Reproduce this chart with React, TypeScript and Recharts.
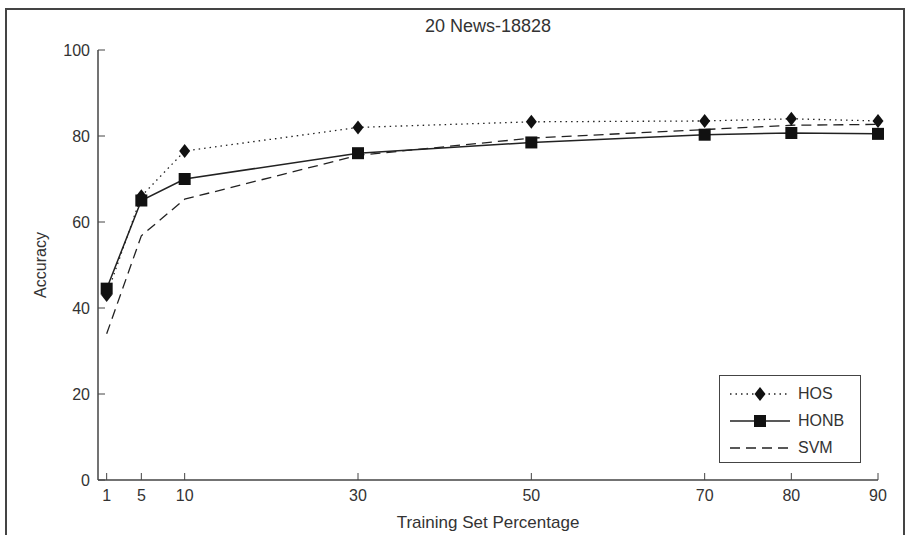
import React from 'react';
import { LineChart, Line, XAxis, YAxis, Legend, Label } from 'recharts';

const pct = [1, 5, 10, 30, 50, 70, 80, 90];
const hos = [43, 66, 76.5, 82, 83.3, 83.5, 84, 83.5];
const honb = [44.5, 65, 70, 76, 78.5, 80.3, 80.7, 80.5];
const svm = [34, 56.8, 65.3, 75.5, 79.5, 81.5, 82.5, 82.7];
const yTicks = [0, 20, 40, 60, 80, 100];

const data = pct.map((p, i) => ({ pct: p, hos: hos[i], honb: honb[i], svm: svm[i] }));

const FONT = '"Liberation Sans", Arial, sans-serif';
const TEXT = '#333';
const FRAME = '#444';
const TICK = 7;
const GAP = 8;

const series = [
  { key: 'hos', name: 'HOS', dash: '1.5 4', width: 1.3, marker: 'diamond' },
  { key: 'honb', name: 'HONB', dash: undefined, width: 1.5, marker: 'square' },
  { key: 'svm', name: 'SVM', dash: '10 6', width: 1.3, marker: 'none' },
];

function markerShape(kind: string, cx: number, cy: number, key?: any) {
  if (kind === 'diamond') {
    return <path key={key} d={`M${cx},${cy - 7}L${cx + 5.5},${cy}L${cx},${cy + 7}L${cx - 5.5},${cy}Z`} fill="#111" />;
  }
  if (kind === 'square') {
    return <rect key={key} x={cx - 6} y={cy - 6} width={12} height={12} fill="#111" />;
  }
  return <g key={key} />;
}

// matlab style ticks: short marks pointing into the plot box
const BottomTick = (p: any) => (
  <g>
    <line x1={p.x} x2={p.x} y1={p.y - GAP} y2={p.y - GAP - TICK} stroke={FRAME} />
    <text x={p.x} y={p.y} dy="0.8em" textAnchor="middle" fill={TEXT} fontSize={16} fontFamily={FONT}>
      {p.payload.value}
    </text>
  </g>
);
const LeftTick = (p: any) => (
  <g>
    <line x1={p.x + GAP} x2={p.x + GAP + TICK} y1={p.y} y2={p.y} stroke={FRAME} />
    <text x={p.x} y={p.y} dy="0.36em" textAnchor="end" fill={TEXT} fontSize={16} fontFamily={FONT}>
      {p.payload.value}
    </text>
  </g>
);
const TopTick = (p: any) => <line x1={p.x} x2={p.x} y1={p.y} y2={p.y + TICK} stroke={FRAME} />;
const RightTick = (p: any) => <line x1={p.x} x2={p.x - TICK} y1={p.y} y2={p.y} stroke={FRAME} />;

function LegendBox() {
  return (
    <div
      style={{
        border: `1.5px solid ${FRAME}`,
        background: '#fff',
        width: 142,
        height: 88,
        padding: '4px 0',
        boxSizing: 'border-box',
        fontFamily: FONT,
        fontSize: 16,
        color: TEXT,
      }}
    >
      {series.map((s) => (
        <div key={s.key} style={{ display: 'flex', alignItems: 'center', height: 27 }}>
          <svg width={78} height={20}>
            <line x1={10} x2={70} y1={10} y2={10} stroke="#222" strokeWidth={s.width} strokeDasharray={s.dash} />
            {markerShape(s.marker, 40, 10)}
          </svg>
          <span>{s.name}</span>
        </div>
      ))}
    </div>
  );
}

export default function App() {
  return (
    <div style={{ position: 'absolute', left: 0, top: 0, width: 906, height: 535, background: '#fff' }}>
      <div
        style={{
          position: 'absolute',
          left: 5,
          top: 8,
          width: 896,
          height: 530,
          border: `2px solid ${FRAME}`,
          borderBottom: 'none',
        }}
      />
      <div
        style={{
          position: 'absolute',
          left: 98,
          width: 780,
          top: 16,
          textAlign: 'center',
          fontFamily: FONT,
          fontSize: 18,
          color: TEXT,
        }}
      >
        20 News-18828
      </div>
      <LineChart
        width={906}
        height={535}
        data={data}
        margin={{ top: 50, right: 28, bottom: 5, left: 38 }}
        style={{ position: 'absolute', left: 0, top: 0 }}
      >
        <XAxis
          xAxisId="x"
          dataKey="pct"
          type="number"
          domain={[0, 90]}
          ticks={pct}
          height={50}
          tickSize={0}
          tickMargin={GAP}
          axisLine={{ stroke: FRAME, strokeWidth: 1.5 }}
          tickLine={false}
          tick={BottomTick}
          interval={0}
        >
          <Label
            value="Training Set Percentage"
            position="insideBottom"
            offset={2}
            style={{ fill: TEXT, fontSize: 17, fontFamily: FONT }}
          />
        </XAxis>
        <XAxis
          xAxisId="top"
          orientation="top"
          dataKey="pct"
          type="number"
          domain={[0, 90]}
          ticks={pct}
          height={0}
          tickSize={0}
          tickMargin={0}
          tick={TopTick}
          tickLine={false}
          axisLine={{ stroke: FRAME, strokeWidth: 1.5 }}
          interval={0}
        />
        <YAxis
          yAxisId="y"
          type="number"
          domain={[0, 100]}
          ticks={yTicks}
          width={60}
          tickSize={0}
          tickMargin={GAP}
          axisLine={{ stroke: FRAME, strokeWidth: 1.5 }}
          tickLine={false}
          tick={LeftTick}
          interval={0}
        >
          <Label
            value="Accuracy"
            angle={-90}
            position="center"
            dx={-28}
            style={{ fill: TEXT, fontSize: 16, fontFamily: FONT, textAnchor: 'middle' }}
          />
        </YAxis>
        <YAxis
          yAxisId="right"
          orientation="right"
          type="number"
          domain={[0, 100]}
          ticks={yTicks}
          width={0}
          tickSize={0}
          tickMargin={0}
          tick={RightTick}
          tickLine={false}
          axisLine={{ stroke: FRAME, strokeWidth: 1.5 }}
          interval={0}
        />
        {/* invisible series so the top/right frame axes have something bound to them */}
        <Line
          xAxisId="top"
          yAxisId="right"
          dataKey="hos"
          stroke="none"
          dot={false}
          activeDot={false}
          legendType="none"
          isAnimationActive={false}
        />
        {series.map((s) => (
          <Line
            key={s.key}
            xAxisId="x"
            yAxisId="y"
            type="linear"
            dataKey={s.key}
            name={s.name}
            stroke="#222"
            strokeWidth={s.width}
            strokeDasharray={s.dash}
            isAnimationActive={false}
            dot={(p: any) => markerShape(s.marker, p.cx, p.cy, `${s.key}-${p.index}`)}
            activeDot={false}
          />
        ))}
        <Legend
          layout="horizontal"
          verticalAlign="middle"
          align="center"
          content={() => <LegendBox />}
          wrapperStyle={{ position: 'absolute', left: 719, top: 375, width: 142 }}
        />
      </LineChart>
    </div>
  );
}
